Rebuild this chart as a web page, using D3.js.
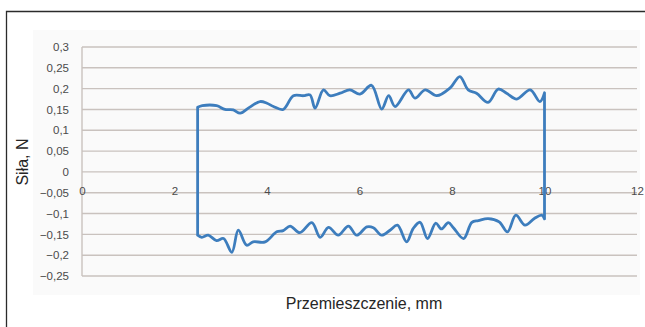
<!DOCTYPE html>
<html>
<head>
<meta charset="utf-8">
<script src="https://cdn.jsdelivr.net/npm/d3@7/dist/d3.min.js"></script>
<style>
  html, body { margin: 0; padding: 0; background: #fff; }
  svg { display: block; }
</style>
</head>
<body>
<svg id="chart" width="645" height="327"></svg>
<script>
// Upper branch (forward stroke), displacement in mm and force in N
const upperX = [2.5, 2.6, 2.91, 3.09, 3.27, 3.42, 3.62, 3.85, 4.0, 4.14, 4.35, 4.57, 4.79, 4.93, 5.04, 5.22, 5.36, 5.58, 5.79, 6.01, 6.26, 6.48, 6.63, 6.77, 7.06, 7.2, 7.42, 7.67, 7.96, 8.17, 8.35, 8.53, 8.78, 9.0, 9.18, 9.4, 9.69, 9.9, 10.0];
const upperY = [0.155, 0.159, 0.159, 0.15, 0.149, 0.141, 0.155, 0.169, 0.165, 0.157, 0.15, 0.183, 0.183, 0.185, 0.153, 0.197, 0.183, 0.189, 0.197, 0.187, 0.208, 0.151, 0.183, 0.157, 0.197, 0.177, 0.197, 0.183, 0.202, 0.229, 0.197, 0.189, 0.167, 0.199, 0.189, 0.175, 0.197, 0.169, 0.19];

// Lower branch (return stroke), from 10 mm back to 2.5 mm
const lowerX = [10.0, 9.94, 9.78, 9.58, 9.38, 9.2, 9.02, 8.78, 8.57, 8.43, 8.25, 8.03, 7.92, 7.77, 7.65, 7.47, 7.31, 7.16, 7.02, 6.82, 6.66, 6.48, 6.3, 6.16, 5.94, 5.76, 5.54, 5.33, 5.15, 4.97, 4.71, 4.5, 4.35, 4.21, 3.96, 3.7, 3.56, 3.38, 3.24, 3.06, 2.91, 2.73, 2.59, 2.5];
const lowerY = [-0.113, -0.104, -0.112, -0.128, -0.104, -0.144, -0.12, -0.112, -0.117, -0.121, -0.16, -0.134, -0.122, -0.137, -0.123, -0.16, -0.121, -0.136, -0.168, -0.128, -0.14, -0.152, -0.134, -0.132, -0.152, -0.13, -0.152, -0.133, -0.157, -0.122, -0.146, -0.13, -0.141, -0.144, -0.168, -0.168, -0.176, -0.14, -0.193, -0.16, -0.165, -0.152, -0.157, -0.152];

const xTicks = [0, 2, 4, 6, 8, 10, 12];
const yTicks = [-0.25, -0.2, -0.15, -0.1, -0.05, 0, 0.05, 0.1, 0.15, 0.2, 0.25, 0.3];

const xTitle = "Przemieszczenie, mm";
const yTitle = "Siła, N";

const svg = d3.select("#chart");
const W = 645, H = 327;
const plot = { left: 82, right: 637, top: 47, bottom: 276 };

const x = d3.scaleLinear().domain([0, 12]).range([plot.left, plot.right]);
const y = d3.scaleLinear().domain([-0.25, 0.3]).range([plot.bottom, plot.top]);

const plLocale = d3.formatLocale({ decimal: ",", thousands: " ", grouping: [3], currency: ["", " zł"] });
const fmt = plLocale.format("~g");

// chart area background and outer frame (partially clipped by the page edge)
svg.append("rect")
  .attr("x", 33).attr("y", 30).attr("width", 607).attr("height", 265)
  .attr("fill", "#fafafa");
svg.append("path")
  .attr("d", `M6.5,${H + 2} V11.5 H${W + 2}`)
  .attr("fill", "none").attr("stroke", "#2b2b2b").attr("stroke-width", 1.3);

// horizontal gridlines
svg.append("g").selectAll("line")
  .data(yTicks).join("line")
  .attr("x1", plot.left).attr("x2", plot.right)
  .attr("y1", d => y(d)).attr("y2", d => y(d))
  .attr("stroke", "#c9c2be").attr("stroke-width", 1.4);

// vertical axis line
svg.append("line")
  .attr("x1", x(0)).attr("x2", x(0))
  .attr("y1", plot.top).attr("y2", plot.bottom)
  .attr("stroke", "#c9c2be").attr("stroke-width", 1.4);

const labelFont = "'Liberation Sans', Arial, sans-serif";

// y axis labels
const yAxis = svg.append("g")
  .attr("transform", `translate(${x(0)},0)`)
  .call(d3.axisLeft(y).tickValues(yTicks).tickFormat(fmt).tickSize(0).tickPadding(13));
yAxis.select(".domain").remove();
yAxis.selectAll("text")
  .attr("font-family", labelFont)
  .attr("font-size", 11.5).attr("fill", "#4a4a4a");

// x axis labels, hanging below the zero line
const xAxis = svg.append("g")
  .attr("transform", `translate(0,${y(0)})`)
  .call(d3.axisBottom(x).tickValues(xTicks).tickFormat(fmt).tickSize(0).tickPadding(15));
xAxis.select(".domain").remove();
xAxis.selectAll("text")
  .attr("font-family", labelFont)
  .attr("font-size", 11.5).attr("fill", "#4a4a4a");

// force–displacement loop: smoothed branches joined by straight reversal strokes
const upper = upperX.map((v, i) => [v, upperY[i]]);
const lower = lowerX.map((v, i) => [v, lowerY[i]]);

const branch = d3.line()
  .x(d => x(d[0]))
  .y(d => y(d[1]))
  .curve(d3.curveCatmullRom.alpha(0.5));

const loopPath = branch(upper) + branch(lower).replace(/^M/, "L") + "Z";

svg.append("path")
  .attr("d", loopPath)
  .attr("fill", "none")
  .attr("stroke", "#3d7dbd")
  .attr("stroke-width", 2.8)
  .attr("stroke-linejoin", "round");

// axis titles
svg.append("text")
  .attr("x", 364).attr("y", 309)
  .attr("text-anchor", "middle")
  .attr("font-family", labelFont)
  .attr("font-size", 16).attr("fill", "#262626")
  .text(xTitle);

svg.append("text")
  .attr("transform", "translate(28,162) rotate(-90)")
  .attr("text-anchor", "middle")
  .attr("font-family", labelFont)
  .attr("font-size", 16).attr("fill", "#262626")
  .text(yTitle);
</script>
</body>
</html>
